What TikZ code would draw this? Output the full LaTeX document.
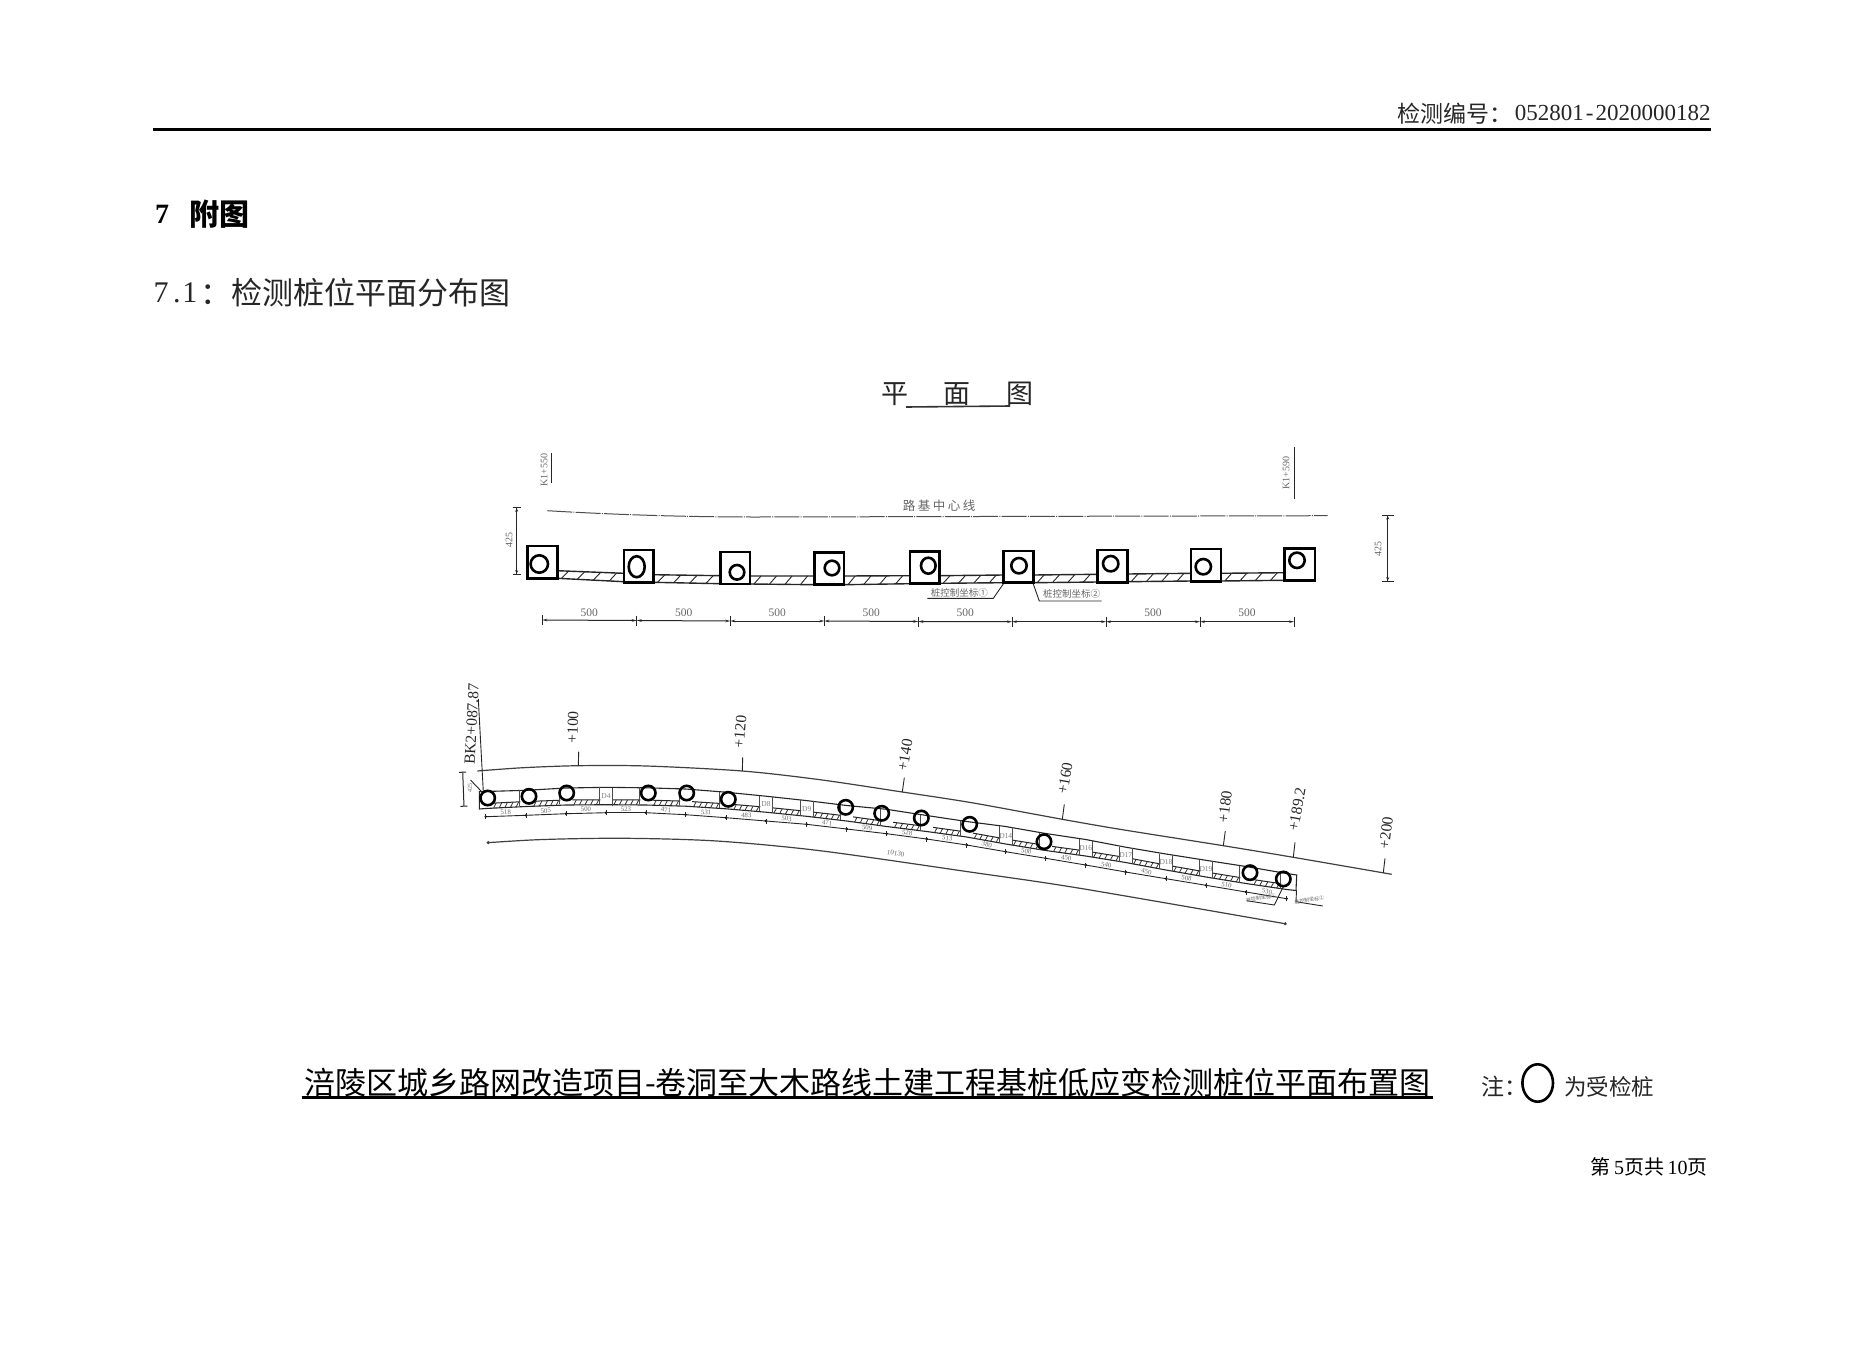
\documentclass[tikz,border=0pt]{standalone}
\usepackage{fontspec}
\setmainfont{Liberation Serif}
\newfontfamily\cjk{Noto Sans CJK SC}
\usetikzlibrary{calc,arrows.meta}
\newcommand{\fsz}[1]{\fontsize{#1}{#1}\selectfont}
\tikzset{
 txt/.style={inner sep=0pt,outer sep=0pt,text=black!85},
 pale/.style={inner sep=0pt,outer sep=0pt,text=black!60},
 thinline/.style={line width=0.9pt,black!85},
 roadline/.style={line width=1.2pt,black!75},
 pilebox/.style={line width=2.8pt,black},
 pilering/.style={line width=2.6pt,black},
 dimline/.style={line width=1pt,black!85},
 hatchline/.style={line width=0.9pt,black!85},
}
\begin{document}
\begin{tikzpicture}[x=1pt,y=-1pt]
\useasboundingbox (0,0) rectangle (1871,1365);
\fill[white] (0,0) rectangle (1871,1365);
% header
\node[txt,anchor=west] (hdrc) at (1397,113.3) {\fsz{23}\cjk 检测编号：};
\node[txt,anchor=east] (hdrd) at (1710.5,113.3) {\fsz{23}052801\makebox[11.6pt][c]{-}2020000182};
\coordinate (hl) at (152.7,129.3); \coordinate (hr) at (1711,129.3);
\draw[line width=3pt,black] (hl) -- (hr);
\node[txt,anchor=west,text=black] (sec) at (155,214) {\fsz{28}\bfseries 7};
\node[txt,anchor=west,text=black] (sect) at (189,214) {\fsz{30}\cjk\bfseries 附图};
\node[txt,anchor=west] (sub) at (153,293) {\fsz{30}\makebox[16pt][c]{7}\makebox[16pt][c]{.}\makebox[10pt][c]{1}};
\node[txt,anchor=west] (subt) at (200,293) {\fsz{31}\cjk ：检测桩位平面分布图};
% drawing title
\node[txt] (t1) at (895,394) {\fsz{27}\cjk 平};
\node[txt] (t2) at (957,394) {\fsz{27}\cjk 面};
\node[txt] (t3) at (1020,394) {\fsz{27}\cjk 图};
\coordinate (tu1) at (906,407); \coordinate (tu2) at (1010,406);
\draw[line width=1.6pt,black!80] (tu1) -- (tu2);
% top plan: chainage marks
\node[pale,rotate=90] (k1) at (544,470) {\fsz{10}K1+550};
\coordinate (k1a) at (551.3,453); \coordinate (k1b) at (551.3,483);
\draw[thinline] (k1a) -- (k1b);
\node[pale,rotate=90] (k2) at (1286,473) {\fsz{10}K1+590};
\coordinate (k2a) at (1294.7,447); \coordinate (k2b) at (1294.7,499);
\draw[thinline] (k2a) -- (k2b);
% centre line
\coordinate (c0) at (547.3,510.7); \coordinate (c1) at (757,517); \coordinate (c2) at (1327.7,515.7);
\draw[line width=1pt,black!70,dash pattern=on 25pt off 1.2pt on 1pt off 1.2pt] (c0) .. controls (620,515) and (690,517) .. (c1) -- (c2);
\node[pale] (cl) at (939,506) {\fsz{12.5}\cjk 路\hspace{2.5pt}基\hspace{2.5pt}中\hspace{2.5pt}心\hspace{2.5pt}线};
% 425 dims
\coordinate (da) at (516.7,507.3); \coordinate (db) at (516.7,574.7);
\draw[dimline,{Bar[width=8pt]Stealth[length=3.5pt,width=3pt]}-{Stealth[length=3.5pt,width=3pt]Bar[width=8pt]}] (da) -- (db);
\node[pale,rotate=90] (d425a) at (509,540) {\fsz{10}425};
\coordinate (dc) at (1387.7,515); \coordinate (dd) at (1387.7,581.7);
\draw[dimline,{Bar[width=12pt]Stealth[length=3.5pt,width=3pt]}-{Stealth[length=3.5pt,width=3pt]Bar[width=12pt]}] (dc) -- (dd);
\node[pale,rotate=90] (d425b) at (1378,549) {\fsz{10}425};
% strips
\foreach \xa/\ta/\ba/\xb/\tb/\bb [count=\n] in {
 557.3/570.7/578.3/624/573.3/581.7,
 653.3/574.7/582.3/720.7/575.7/583.7,
 750/576/584/814.7/576/584.7,
 844/576/584.7/910/575.7/583.7,
 939.3/575.7/583.3/1003.3/575/582.7,
 1033.3/575/582.7/1097.3/574.3/582,
 1127.3/574/581.7/1191/573.3/581,
 1221/573.3/581/1284.3/572.7/580.3}{
 \coordinate (sa\n) at (\xa,\ta); \coordinate (sb\n) at (\xb,\tb);
 \coordinate (sc\n) at (\xb,\bb); \coordinate (sd\n) at (\xa,\ba);
 \draw[line width=1.4pt,black!85] (sa\n) -- (sb\n) (sd\n) -- (sc\n);
 \foreach \f in {0.06,0.3,0.54,0.78}{
  \draw[hatchline] ($(sd\n)!\f!(sc\n)$) -- ($(sa\n)!\f+0.11!(sb\n)$);
 }
}
% piers, top plan
\foreach \xa/\ya/\xb/\yb/\cx/\cy/\rx/\ry [count=\n] in {
 527.3/546/557.3/578.3/539.3/564/8.7/8.7,
 624/550/653.3/582.3/636.7/566.7/8/10.5,
 720.7/552/750/584/737/572.3/7.3/7.3,
 814.7/552.3/844/584.7/832/568/7.3/7.3,
 910/551.7/939.3/583.3/928.3/565.7/7.3/8,
 1003.3/551/1033.3/582.7/1019/565.7/7.7/7.7,
 1097.3/550/1127.3/582.7/1110.7/563.7/7.7/7.7,
 1191/549/1221/581.7/1203.3/566.7/7.7/7.7,
 1284.3/548.3/1315/580.7/1297/560.3/7.7/7.7}{
 \draw[pilebox,fill=white] (\xa,\ya) rectangle (\xb,\yb);
 \draw[pilering] (\cx,\cy) ellipse [x radius=\rx, y radius=\ry];
}
% annotation leaders
\coordinate (aa) at (927.3,598.3); \coordinate (ab) at (993.3,598.3); \coordinate (ac) at (1003.3,584);
\draw[thinline] (aa) -- (ab) -- (ac);
\node[pale] (al) at (959.3,592.5) {\fsz{9.5}\cjk 桩控制坐标①};
\coordinate (ba) at (1033.3,584); \coordinate (bb) at (1039.3,601); \coordinate (bc) at (1101.7,601);
\draw[thinline] (ba) -- (bb) -- (bc);
\node[pale] (bl) at (1071.7,594.3) {\fsz{9.5}\cjk 桩控制坐标②};
% dims under top plan
\foreach \x/\y/\lab [count=\n] in {542.3/620/500,636.7/620.5/500,730.3/621/500,824.3/621/500,918.3/621.5/500,1012/621.7/,1106/621.7/500,1200/621.7/500}{
 \coordinate (p\n) at (\x,\y);
 \draw[dimline] ($(p\n)+(0,-5)$) -- ($(p\n)+(0,5)$);
 \ifx\lab\empty\else
  \pgfmathsetmacro{\mx}{\x+47}
  \node[pale] (pl\n) at (\mx,613) {\fsz{11.5}\lab};
 \fi
}
\coordinate (p9) at (1294,621.7);
\draw[dimline] ($(p9)+(0,-5)$) -- ($(p9)+(0,5)$);
\foreach \a/\b in {1/2,2/3,3/4,4/5,5/6,6/7,7/8,8/9}{
 \draw[dimline,{Stealth[length=5pt,width=2.6pt]}-{Stealth[length=5pt,width=2.6pt]}] (p\a) -- (p\b);
}
% lower plan: outer road line
\coordinate (r0) at (477.3,771); \coordinate (r9) at (1391.7,874.3);
\draw[roadline] plot[smooth,tension=0.5] coordinates {(r0) (523.3,767.7) (578.3,765.7) (646.7,766) (742.3,771) (820,779.7) (902.3,792) (971.7,802.7) (1062.3,819.3) (1120,829.3) (1223.3,845.7) (1293.3,857.3) (r9)};
% lower long line
\coordinate (l0) at (486.7,842.7); \coordinate (l9) at (1286.7,924);
\draw[roadline,{Circle[length=3pt]}-{Circle[length=3pt]}] plot[smooth,tension=0.5] coordinates {(l0) (550,839.3) (626.7,838.3) (716.7,841) (820,850.7) (970,872) (1080,888.3) (l9)};
\node[pale,rotate=-10] (ltot) at (895.7,853.3) {\fsz{7}10130};
% chainage ticks
\foreach \xa/\ya/\xb/\yb/\lx/\ly/\rot/\lab [count=\n] in {
 578.3/765.7/578.7/751.7/572.7/727.3/88/+100,
 742.3/771/742.7/757.3/740/731.7/85/+120,
 902.3/792/904.3/777.7/905/755/80/+140,
 1062.3/819.3/1064.3/804.3/1065/778.3/80/+160,
 1223.3/845.7/1225.3/831/1225/806.7/83/+180,
 1293.3/857.3/1295/842.3/1297/809.3/80/+189.2,
 1383.3/872.7/1385/858.3/1386/832.7/83/+200}{
 \coordinate (ca\n) at (\xa,\ya); \coordinate (cb\n) at (\xb,\yb);
 \draw[thinline] (ca\n) -- (cb\n);
 \node[txt,rotate=\rot] (cl\n) at (\lx,\ly) {\fsz{15.5}\lab};
}
\node[txt,rotate=87] (bk) at (471.7,724) {\fsz{15.5}BK2+087.87};
\coordinate (bka) at (478.3,699); \coordinate (bkb) at (483.3,791.7);
\draw[thinline] (bka) -- (bkb);
\coordinate (sd1x) at (462.7,771.7); \coordinate (sd2x) at (464,806.7);
\draw[dimline,Bar-Bar] (sd1x) -- (sd2x);
\node[pale,rotate=90] (sd) at (470,788) {\fsz{6}425};
\coordinate (ln1) at (470.5,780); \coordinate (ln2) at (482,792);
\draw[thinline] (ln1) -- (ln2);
% stations
\foreach \x/\t/\b/\dy [count=\n] in {
 485.7/791.5/808.5/816.7, 526/790.3/806.5/815.3, 566/788/805/813.7, 606/787.3/804.7/812.7,
 646/787.8/805/812.7, 685.7/789/806.2/814.7, 726/792.2/808.8/817.7, 766/796.2/812.2/821,
 806.7/800.6/816.3/824.3, 846.7/805.5/821/829, 886.7/809.3/826.5/833.7, 926.7/815.5/831.5/839,
 966.7/821.5/837/845, 1005.7/826.5/844/851.7, 1045.7/833.5/850.5/858.3, 1085.7/839.5/856/865,
 1125.7/847.2/862.5/872, 1166/854/870/878.7, 1206/860.3/877/885.3, 1246/866.5/883.5/892, 1286.7/873.5/889.5/898.7}{
 \coordinate (T\n) at (\x,\t); \coordinate (B\n) at (\x,\b); \coordinate (D\n) at (\x,\dy);
}
\coordinate (Te) at (1296.7,875); \coordinate (Be) at (1296,890.5);
\coordinate (Ts) at (479.3,791.7); \coordinate (Bs) at (479.3,809);
% wall outline
\draw[line width=1.1pt,black!85] (Ts) -- (T1)
 \foreach \n in {2,...,21}{ -- (T\n) } -- (Te) -- (Be) -- (B21)
 \foreach \n in {20,19,...,1}{ -- (B\n) } -- (Bs) -- cycle;
% spans: band, hatching, dim and label
\foreach \a/\b/\lab in {1/2/518,2/3/505,3/4/500,4/5/523,5/6/471,6/7/531,7/8/483,8/9/503,9/10/471,10/11/509,
 11/12/528,12/13/513,13/14/380,14/15/508,15/16/450,16/17/540,17/18/450,18/19/508,19/20/510,20/21/530}{
 \coordinate (e1) at ($(B\a)!0.16!(B\b)$); \coordinate (e2) at ($(B\a)!0.86!(B\b)$);
 \coordinate (e3) at ($(B\a)!0.16!(B\b)+(0,-5)$); \coordinate (e4) at ($(B\a)!0.86!(B\b)+(0,-5)$);
 \draw[line width=1pt,black!85] (e3) -- (e4);
 \foreach \f in {0.05,0.25,0.45,0.65,0.85}{
  \draw[line width=0.8pt,black!80] ($(e1)!\f!(e2)$) -- ($(e3)!\f+0.09!(e4)$);
 }
 \draw[line width=0.9pt,black!85] (D\a) -- node[pale,midway,sloped,above=1.5pt] (dl\a) {\fsz{6.8}\lab} (D\b);
}
\foreach \n in {1,...,21}{
 \fill[black] (D\n) circle (1.3pt);
 \draw[line width=0.7pt,black!85] ($(D\n)+(0,-2.5)$) -- ($(D\n)+(0,2.5)$);
}
% labelled piers
\foreach \n/\lab in {4/D4,8/D8,9/D9,14/D14,16/D16,17/D17,18/D18,19/D19}{
 \draw[line width=0.8pt,black!70] ($(T\n)+(-6.3,-0.5)$) -- ($(B\n)+(-6.3,-0.8)$) ($(T\n)+(6.3,0.5)$) -- ($(B\n)+(6.3,1)$);
 \node[pale,text=black!50] (dn\n) at ($(T\n)!0.52!(B\n)$) {\fsz{7.5}\lab};
}
% other pier sides
\foreach \n in {2,3,5,6,7,10,11,12,13,15,20,21}{
 \draw[line width=0.8pt,black!70] ($(T\n)+(-6.3,-0.5)$) -- ($(B\n)+(-6.3,-0.8)$);
}
% leaders at the end
\coordinate (ea) at (1283.3,886.7); \coordinate (eb) at (1274.3,905); \coordinate (ec) at (1246.7,900.7);
\draw[thinline] (ea) -- (eb) -- (ec);
\node[pale,rotate=10] (el) at (1261,898) {\fsz{5}\cjk 桩控制坐标①};
\coordinate (fa) at (1296.5,890); \coordinate (fb) at (1296,901.7); \coordinate (fc) at (1322.7,906);
\draw[thinline] (fa) -- (fb) -- (fc);
\node[pale,rotate=10] (fl) at (1309.3,900) {\fsz{5}\cjk 桩控制坐标②};
% rings, lower plan
\foreach \x/\y in {487.7/798,529/796.3,566.7/793,648.3/793,686.7/793,728.3/799.3,845.7/807.3,881.7/813.3,921.3/818,969.7/824.3,1044/841.7,1250/872.7,1283.3/879}{
 \draw[pilering] (\x,\y) circle (7.2pt);
}
% caption
\node[txt,anchor=west,text=black] (cap) at (304,1082.7) {\fsz{31}\cjk 涪陵区城乡路网改造项目-卷洞至大木路线土建工程基桩低应变检测桩位平面布置图};
\coordinate (cu1) at (301.7,1097.3); \coordinate (cu2) at (1433.3,1097.3);
\draw[line width=2.4pt,black] (cu1) -- (cu2);
\node[txt,anchor=west] (note) at (1481,1086.7) {\fsz{23}\cjk 注：};
\draw[line width=2.6pt,black] (1537.7,1083) ellipse [x radius=15.3, y radius=18.7];
\node[txt,anchor=west] (note2) at (1564,1086.7) {\fsz{22.5}\cjk 为受检桩};
% footer
\node[txt,anchor=east,text=black] (foot) at (1707.5,1166.7) {\fsz{20}{\cjk 第}\,5{\cjk 页共}\,10{\cjk 页}};
\end{tikzpicture}
\end{document}
